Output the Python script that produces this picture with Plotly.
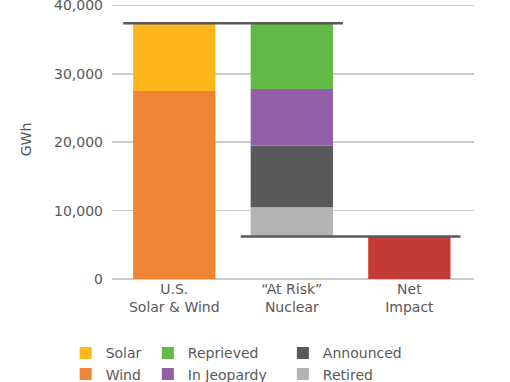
import plotly.graph_objects as go

categories = ["U.S.<br>Solar & Wind", "\u201cAt Risk\u201d<br>Nuclear", "Net<br>Impact"]

# Renewables (GWh)
wind = 27500
solar = 9900
# At-risk nuclear (GWh), stacked bottom to top
retired = 4300
announced = 9000
in_jeopardy = 8300
reprieved = 9600

total_renew = wind + solar
total_nuclear = retired + announced + in_jeopardy + reprieved
net_impact = total_renew - total_nuclear

y_ticks = [0, 10000, 20000, 30000, 40000]

colors = {
    "Solar": "#FDB71A",
    "Wind": "#EE8434",
    "Reprieved": "#62B946",
    "In Jeopardy": "#925FA8",
    "Announced": "#58595B",
    "Retired": "#B3B3B3",
    "Net": "#C43B35",
}
txt = "#595959"
font_family = "DejaVu Sans"

fig = go.Figure()

def add_bar(name, cat_idx, value, base, legend=None, show=True, rank=None):
    fig.add_trace(go.Bar(
        x=[categories[cat_idx]], y=[value], base=[base], name=name,
        marker=dict(color=colors[name], line=dict(width=0)),
        legend=legend, showlegend=show, legendrank=rank,
        hoverinfo="name+y",
    ))

# Bar 1: renewables
add_bar("Wind", 0, wind, 0, "legend", True, 2)
add_bar("Solar", 0, solar, wind, "legend", True, 1)
# Bar 2: nuclear, floating down from the renewables total
b = net_impact
add_bar("Retired", 1, retired, b, "legend3", True, 2); b += retired
add_bar("Announced", 1, announced, b, "legend3", True, 1); b += announced
add_bar("In Jeopardy", 1, in_jeopardy, b, "legend2", True, 2); b += in_jeopardy
add_bar("Reprieved", 1, reprieved, b, "legend2", True, 1)
# Bar 3: net
add_bar("Net", 2, net_impact, 0, None, False)

# Waterfall connector lines
ext = 0.435
line_style = dict(color="#58595B", width=2.5)
fig.add_shape(type="line", xref="x", yref="y", x0=0 - ext, x1=1 + ext,
              y0=total_renew, y1=total_renew, line=line_style)
fig.add_shape(type="line", xref="x", yref="y", x0=1 - ext, x1=2 + ext,
              y0=net_impact, y1=net_impact, line=line_style)

legend_common = dict(orientation="v", yanchor="top", xanchor="left",
                     font=dict(family=font_family, size=14, color=txt),
                     bgcolor="rgba(0,0,0,0)", borderwidth=0,
                     traceorder="normal", itemclick=False, itemdoubleclick=False)

fig.update_layout(
    width=510, height=382,
    margin=dict(l=112, r=36, t=0, b=103, autoexpand=False),
    paper_bgcolor="white", plot_bgcolor="white",
    barmode="overlay", bargap=0.3,
    font=dict(family=font_family, size=14, color=txt),
    showlegend=True,
    legend=dict(x=-0.128, y=-0.209, **legend_common),
    legend2=dict(x=0.099, y=-0.209, **legend_common),
    legend3=dict(x=0.472, y=-0.209, **legend_common),
    xaxis=dict(
        range=[-0.53, 2.55], showgrid=False, showline=False, zeroline=False,
        ticks="", tickfont=dict(family=font_family, size=14, color=txt),
        fixedrange=True, automargin=False,
    ),
    yaxis=dict(
        range=[0, 40800], tickvals=y_ticks, tickformat=",",
        showgrid=True, gridcolor="#CCCCCC", gridwidth=1.5,
        zeroline=True, zerolinecolor="#CCCCCC", zerolinewidth=1.5,
        showline=False, ticks="", ticklabelstandoff=8,
        ticklabeloverflow="allow",
        tickfont=dict(family=font_family, size=14, color=txt),
        title=dict(text="GWh", standoff=19,
                   font=dict(family=font_family, size=14, color=txt)),
        fixedrange=True, automargin=False,
    ),
)

fig.write_html(
    "out.html",
    config={"displayModeBar": False, "staticPlot": True},
    post_script="document.body.style.margin='0';document.body.style.overflow='hidden';",
)
